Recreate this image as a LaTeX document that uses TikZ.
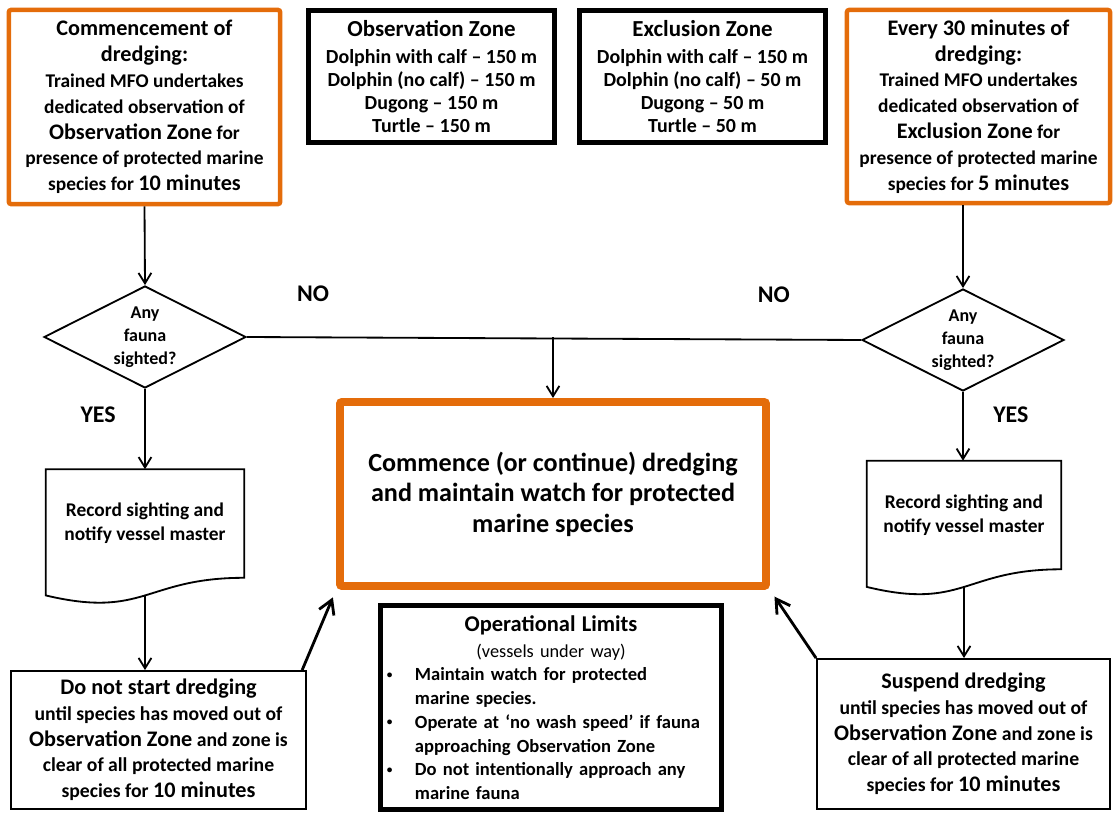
\documentclass[tikz,border=0pt]{standalone}
\usepackage{fontspec}
\setmainfont{Carlito}
\usepackage{tikz}
\usetikzlibrary{shapes.geometric, arrows.meta, positioning, calc}
\definecolor{mfoorange}{RGB}{228,108,10}
\newcommand{\txb}[1]{{\fontsize{15.8}{18.4}\selectfont #1}}
\newcommand{\opitem}[1]{\par\raggedright\noindent\hangindent=0.8cm\hangafter=1%
  \makebox[0.8cm][l]{\hspace{0.1cm}\raisebox{0.15em}{\fontsize{8}{8}\selectfont\textbullet}}#1\par}

\begin{document}
\begin{tikzpicture}[x=0.025cm, y=-0.025cm,
    orangebox/.style={draw=mfoorange, line width=3.2pt, rounded corners=1.5pt, align=center, inner sep=0pt,
      font=\bfseries\fontsize{13.8}{18.4}\selectfont},
    zonebox/.style={draw, line width=3.2pt, align=center, inner sep=0pt, minimum width=6.15cm, minimum height=3.3cm,
      font=\bfseries\fontsize{14.2}{16.3}\selectfont},
    thinbox/.style={draw, line width=1.3pt, align=center, inner sep=0pt,
      font=\bfseries\fontsize{14}{18.3}\selectfont},
    docnode/.style={minimum width=#1, minimum height=2.7cm, inner sep=0pt, align=center,
      font=\bfseries\fontsize{13.8}{17}\selectfont},
    question/.style={diamond, draw, line width=1.3pt, aspect=2, inner sep=0pt,
      minimum width=5.05cm, minimum height=2.55cm, align=center,
      font=\bfseries\fontsize{12.8}{16.3}\selectfont},
    yesno/.style={inner sep=0pt, font=\bfseries\fontsize{17}{20}\selectfont},
    arr/.style={-{Straight Barb[length=2.6mm,width=3.2mm]}, line width=1.3pt},
    bigarr/.style={-{Straight Barb[length=3.4mm,width=4mm]}, line width=2pt}
  ]
  \useasboundingbox (0,0) rectangle (1113,814);

  % top row
  \node[orangebox, minimum width=6.78cm, minimum height=4.85cm] (start) at (144.5,107)
    {\txb{Commencement of}\\\txb{dredging:}\\Trained MFO undertakes\\dedicated observation of\\
     \txb{Observation Zone} for\\presence of protected marine\\species for \txb{10 minutes}};
  \node[zonebox] (obs) at (431.5,76.5)
    {{\fontsize{16.3}{16.3}\selectfont Observation Zone}\\[3pt]Dolphin with calf -- 150 m\\
     Dolphin (no calf) -- 150 m\\Dugong -- 150 m\\Turtle -- 150 m};
  \node[zonebox] (excl) at (702.5,76.5)
    {{\fontsize{16.3}{16.3}\selectfont Exclusion Zone}\\[3pt]Dolphin with calf -- 150 m\\
     Dolphin (no calf) -- 50 m\\Dugong -- 50 m\\Turtle -- 50 m};
  \node[orangebox, minimum width=6.575cm, minimum height=4.825cm] (every) at (978.5,106.5)
    {\txb{Every 30 minutes of}\\\txb{dredging:}\\Trained MFO undertakes\\dedicated observation of\\
     \txb{Exclusion Zone} for\\presence of protected marine\\species for \txb{5 minutes}};

  % decisions
  \node[question] (qleft) at (145,337) {Any\\fauna\\sighted?};
  \node[question] (qright) at (963,340) {Any\\fauna\\sighted?};
  \node[yesno, above right=0.875cm and 1.25cm of qleft.east] (noleft) {NO};
  \node[yesno, above left=0.925cm and 1.775cm of qright.west] (noright) {NO};
  \node[yesno, below left=0.45cm and 0.725cm of qleft.south] (yesleft) {YES};
  \node[yesno, below right=0.375cm and 0.75cm of qright.south] (yesright) {YES};

  % main box
  \node[draw=mfoorange, line width=5.6pt, rounded corners=1.5pt, align=center, inner sep=0pt,
    minimum width=10.65cm, minimum height=4.6cm,
    font=\bfseries\fontsize{18.6}{21.7}\selectfont] (work) at (553,494)
    {Commence (or continue) dredging\\and maintain watch for protected\\marine species};

  % record sighting
  \node[docnode=4.95cm] (recleft) at (145,523.5) {Record sighting and\\notify vessel master};
  \node[docnode=4.85cm] (recright) at (964,515) {Record sighting and\\notify vessel master};
  \foreach \d in {recleft,recright}
    \draw[line width=1.3pt] (\d.north west) -- (\d.north east) -- (\d.south east)
      .. controls (\d.south) and ([yshift=-1.03cm]\d.south) .. ([yshift=-0.44cm]\d.south west) -- cycle;

  % bottom row
  \node[thinbox, minimum width=7.375cm, minimum height=3.45cm] (nostart) at (158.5,740)
    {\txb{Do not start dredging}\\until species has moved out of\\\txb{Observation Zone} and zone is\\
     clear of all protected marine\\species for \txb{10 minutes}};
  \node[thinbox, minimum width=7.325cm, minimum height=3.75cm] (suspend) at (963.5,734)
    {\txb{Suspend dredging}\\until species has moved out of\\\txb{Observation Zone} and zone is\\
     clear of all protected marine\\species for \txb{10 minutes}};
  \node[draw, line width=3.2pt, minimum width=8.525cm, minimum height=5.1cm, inner sep=0pt,
    text width=8.4cm, align=left, font=\bfseries\fontsize{13.2}{16.9}\selectfont] (limits) at (551,707.5)
    {{\centering\fontsize{16}{18.5}\selectfont Operational Limits\par
      \mdseries\fontsize{13}{18.5}\selectfont (vessels under way)\par}
     \opitem{Maintain watch for protected\newline marine species.}
     \opitem{Operate at `no wash speed' if fauna\newline approaching Observation Zone}
     \opitem{Do not intentionally approach any\newline marine fauna}};

  % connectors
  \draw[arr] (start.south) -- (qleft.north);
  \draw[arr] (qright.north |- every.south) -- (qright.north);
  \draw[line width=1.3pt] (qleft.east) -- (qright.west);
  \draw[arr] (qleft.east -| work.north) -- (work.north);
  \draw[arr] (qleft.south) -- (recleft.north);
  \draw[arr] (qright.south) -- (qright.south |- recright.north);
  \draw[arr] ([yshift=-0.44cm]recleft.south) -- (recleft.south |- nostart.north);
  \draw[arr] ([yshift=-0.44cm]recright.south) -- (recright.south |- suspend.north);
  \draw[bigarr, shorten >=0.2cm] ([xshift=-0.12cm]nostart.north east) -- (work.south west);
  \draw[bigarr, shorten >=0.2cm] (suspend.north west) -- (work.south east);
\end{tikzpicture}
\end{document}
